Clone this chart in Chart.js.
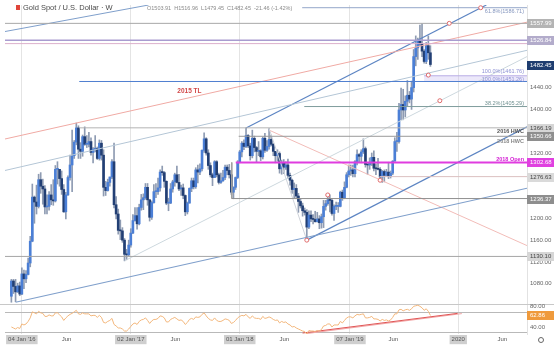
<!DOCTYPE html>
<html>
<head>
<meta charset="utf-8">
<script src="https://cdn.jsdelivr.net/npm/chart.js@4.4.1/dist/chart.umd.min.js"></script>
<style>
  html, body { margin: 0; padding: 0; background: #fff; overflow: hidden; }
</style>
</head>
<body>
<canvas id="goldChart" width="554" height="346"></canvas>
<script>
// weekly XAU/USD, first candle = week of 30 Nov 2015 (week 0 = 04 Jan 2016)
const firstWeek = -5;

const opens = [
  1057, 1085, 1075, 1065, 1076,
  1061, 1098, 1089, 1097, 1118, 1158, 1239, 1230, 1222, 1271, 1259, 1254, 1221, 1222, 1243, 1234, 1232, 1290, 1290, 1273,
  1253, 1212, 1243, 1275, 1298, 1315, 1340, 1366, 1327, 1323, 1350, 1336, 1336, 1341, 1321, 1327, 1328, 1310, 1338, 1316,
  1257, 1251, 1266, 1276, 1304, 1225, 1208, 1178, 1177, 1160, 1134, 1133,
  1151, 1173, 1196, 1205, 1190, 1220, 1234, 1238, 1257, 1234, 1202, 1229, 1249, 1249, 1256, 1285, 1284, 1268, 1228, 1228,
  1254, 1267, 1280, 1266, 1254, 1256, 1242, 1212, 1228, 1255, 1269, 1258, 1289, 1285, 1291, 1325, 1346, 1320, 1297, 1280,
  1275, 1304, 1280, 1266, 1269, 1275, 1294, 1288, 1280, 1248, 1257, 1275,
  1303, 1322, 1338, 1332, 1352, 1333, 1315, 1347, 1330, 1323, 1324, 1313, 1347, 1325, 1332, 1345, 1336, 1323, 1315, 1319,
  1291, 1301, 1294, 1298, 1279, 1270, 1253, 1255, 1241, 1231, 1223, 1214, 1211, 1184, 1206, 1199, 1198, 1194, 1199, 1192,
  1203, 1222, 1227, 1234, 1233, 1209, 1222, 1222, 1222, 1248, 1238, 1257,
  1280, 1287, 1289, 1282, 1304, 1317, 1314, 1322, 1328, 1299, 1298, 1302, 1312, 1292, 1291, 1290, 1276, 1286, 1279, 1285,
  1277, 1283, 1305, 1341, 1341, 1399, 1409, 1399, 1415, 1426, 1419, 1440, 1497, 1513, 1527, 1520, 1507, 1488, 1517, 1504
];
const highs = [
  1088, 1088, 1088, 1081, 1083,
  1109, 1105, 1104, 1127, 1167, 1263, 1241, 1261, 1281, 1284, 1272, 1260, 1243, 1249, 1262, 1271, 1297, 1304, 1290, 1287,
  1262, 1248, 1278, 1316, 1362, 1343, 1375, 1370, 1339, 1353, 1368, 1352, 1358, 1348, 1330, 1352, 1331, 1344, 1343, 1326,
  1268, 1272, 1276, 1308, 1338, 1240, 1217, 1197, 1183, 1163, 1143, 1160,
  1181, 1207, 1220, 1220, 1226, 1244, 1245, 1264, 1264, 1235, 1232, 1262, 1264, 1274, 1289, 1296, 1286, 1269, 1237, 1264,
  1270, 1283, 1296, 1281, 1261, 1263, 1243, 1230, 1256, 1274, 1274, 1293, 1298, 1300, 1326, 1357, 1348, 1326, 1302, 1283,
  1306, 1306, 1283, 1283, 1288, 1298, 1298, 1299, 1281, 1258, 1276, 1306,
  1325, 1341, 1344, 1366, 1354, 1338, 1362, 1351, 1332, 1341, 1326, 1349, 1356, 1343, 1365, 1353, 1338, 1323, 1326, 1322,
  1307, 1308, 1304, 1309, 1283, 1272, 1265, 1262, 1246, 1236, 1228, 1219, 1216, 1214, 1214, 1207, 1213, 1211, 1205, 1208,
  1233, 1233, 1243, 1243, 1237, 1225, 1230, 1229, 1250, 1252, 1267, 1284,
  1298, 1298, 1298, 1306, 1326, 1319, 1326, 1346, 1331, 1300, 1311, 1320, 1324, 1300, 1310, 1293, 1288, 1289, 1290, 1303,
  1287, 1306, 1348, 1358, 1411, 1439, 1437, 1425, 1453, 1433, 1452, 1510, 1535, 1531, 1555, 1557, 1510, 1523, 1535, 1517
];
const lows = [
  1046, 1062, 1047, 1064, 1058,
  1060, 1071, 1082, 1096, 1111, 1157, 1191, 1208, 1219, 1246, 1226, 1208, 1208, 1215, 1225, 1224, 1230, 1263, 1259, 1244,
  1211, 1199, 1242, 1270, 1249, 1310, 1335, 1310, 1310, 1314, 1334, 1330, 1331, 1316, 1302, 1322, 1308, 1307, 1307, 1241,
  1242, 1250, 1259, 1273, 1219, 1199, 1171, 1161, 1156, 1122, 1124, 1131,
  1147, 1172, 1195, 1180, 1188, 1215, 1216, 1235, 1224, 1195, 1198, 1228, 1238, 1244, 1250, 1279, 1257, 1225, 1214, 1227,
  1248, 1259, 1265, 1251, 1242, 1236, 1205, 1208, 1228, 1249, 1254, 1255, 1265, 1280, 1287, 1321, 1316, 1290, 1276, 1260,
  1275, 1276, 1263, 1264, 1268, 1271, 1280, 1274, 1244, 1236, 1253, 1273,
  1302, 1313, 1326, 1330, 1330, 1307, 1311, 1322, 1303, 1315, 1306, 1309, 1321, 1323, 1327, 1333, 1315, 1302, 1305, 1283,
  1281, 1282, 1290, 1274, 1261, 1246, 1238, 1236, 1211, 1219, 1204, 1206, 1160, 1181, 1194, 1190, 1193, 1193, 1181, 1182,
  1183, 1215, 1224, 1212, 1206, 1196, 1216, 1211, 1221, 1233, 1236, 1256,
  1276, 1279, 1276, 1276, 1298, 1303, 1302, 1319, 1294, 1281, 1290, 1297, 1287, 1280, 1289, 1270, 1266, 1267, 1278, 1273,
  1274, 1280, 1305, 1323, 1338, 1381, 1381, 1386, 1405, 1412, 1400, 1432, 1480, 1492, 1517, 1497, 1485, 1484, 1492, 1479
];
const closes = [
  1085, 1075, 1065, 1076, 1061,
  1098, 1089, 1097, 1118, 1158, 1239, 1230, 1222, 1271, 1259, 1254, 1221, 1222, 1243, 1234, 1232, 1290, 1290, 1273, 1253,
  1212, 1243, 1275, 1298, 1315, 1340, 1366, 1327, 1323, 1350, 1336, 1336, 1341, 1321, 1327, 1328, 1310, 1338, 1316, 1257,
  1251, 1266, 1276, 1304, 1225, 1208, 1178, 1177, 1160, 1134, 1133, 1151,
  1173, 1196, 1205, 1190, 1220, 1234, 1238, 1257, 1234, 1202, 1229, 1249, 1249, 1256, 1285, 1284, 1268, 1228, 1228, 1254,
  1267, 1280, 1266, 1254, 1256, 1242, 1212, 1228, 1255, 1269, 1258, 1289, 1285, 1291, 1325, 1346, 1320, 1297, 1280, 1275,
  1304, 1280, 1266, 1269, 1275, 1294, 1288, 1280, 1248, 1257, 1275, 1303,
  1322, 1338, 1332, 1352, 1333, 1315, 1347, 1330, 1323, 1324, 1313, 1347, 1325, 1332, 1345, 1336, 1323, 1315, 1319, 1291,
  1301, 1294, 1298, 1279, 1270, 1253, 1255, 1241, 1231, 1223, 1214, 1211, 1184, 1206, 1199, 1198, 1194, 1199, 1192, 1203,
  1222, 1227, 1234, 1233, 1209, 1222, 1222, 1222, 1248, 1238, 1257, 1280,
  1287, 1289, 1282, 1304, 1317, 1314, 1322, 1328, 1299, 1298, 1302, 1312, 1292, 1291, 1290, 1276, 1286, 1279, 1285, 1277,
  1283, 1305, 1341, 1341, 1399, 1409, 1399, 1415, 1426, 1419, 1440, 1497, 1513, 1527, 1520, 1507, 1488, 1517, 1504, 1482.45
];
const rsiValues = [
  40, 38, 36, 39, 37,
  46, 44, 46, 51, 58, 70, 68, 66, 71, 68, 67, 61, 61, 64, 62, 62, 68, 68, 64, 60,
  53, 58, 62, 65, 67, 70, 73, 66, 65, 68, 66, 66, 66, 62, 63, 63, 59, 63, 59, 49,
  48, 51, 53, 57, 45, 42, 38, 38, 36, 32, 32, 36,
  41, 46, 48, 45, 51, 54, 55, 58, 53, 47, 52, 55, 55, 57, 62, 61, 58, 50, 50, 55,
  57, 59, 56, 53, 54, 51, 45, 49, 55, 57, 55, 60, 59, 60, 65, 68, 62, 57, 54, 53,
  58, 53, 51, 51, 53, 56, 55, 53, 47, 49, 53, 58,
  61, 63, 62, 65, 60, 57, 62, 58, 57, 57, 55, 61, 57, 58, 60, 58, 55, 53, 54, 48,
  51, 49, 50, 46, 44, 40, 41, 38, 36, 34, 32, 31, 26, 33, 32, 32, 31, 33, 32, 35,
  42, 43, 46, 46, 40, 44, 44, 44, 51, 48, 53, 58,
  60, 60, 58, 62, 65, 64, 65, 66, 58, 58, 59, 61, 56, 56, 55, 52, 55, 53, 54, 52,
  54, 59, 66, 66, 74, 75, 72, 74, 75, 73, 76, 81, 82, 83, 81, 78, 73, 76, 71, 62.86
];

// time axis
const xTickWeeks = [0, 21.3, 52, 73.3, 104, 125.3, 156.6, 177.3, 208.3, 229.3];
const xTickLabels = ["04 Jan '16", 'Jun', "02 Jan '17", 'Jun', "01 Jan '18", 'Jun', "07 Jan '19", 'Jun', '2020', 'Jun'];
const priceTicks = [1080, 1120, 1160, 1200, 1320, 1400, 1440];

// horizontal levels (price, first week drawn)
const levelValues = [1586.71, 1557.99, 1526.84, 1520.8, 1461.76, 1451.26, 1405.29, 1366.19, 1350.66, 1302.68, 1276.63, 1236.37, 1130.10];
const levelStarts = [133.8, -8.04, -8.04, -8.04, 192, 27.4, 134.8, 27.4, 103.5, 102.1, 170.7, 100.2, -8.04];

// trendlines as [week, price, week, price]
const trendLines = [
  [-8.04, 1345.7, 241.1, 1560.2],   // 2015 TL
  [-8.04, 1287.9, 241.1, 1508.5],
  [-3, 1046, 241.1, 1255.3],
  [136, 1160, 241.1, 1368],
  [107, 1366, 221.7, 1591.7],
  [49, 1122, 241.1, 1497],
  [118, 1365, 136, 1160],
  [118, 1362, 241.1, 1150],
  [-8.04, 1543, 60.5, 1591.7],
  [100.2, 1302.68, 100.2, 1236.37]
];
const rsiTrendLines = [
  [134, 28, 208, 67],
  [136, 27, 210, 66.5]
];
const markerWeeks = [136, 146, 171, 194, 199.5, 204, 219];
const markerPrices = [1160, 1243, 1270, 1463, 1416, 1558, 1586.7];

// price tags on the right axis
const tagValues = [1557.99, 1526.84, 1482.45, 1366.19, 1350.66, 1302.68, 1276.63, 1236.37, 1130.10];
const noteTexts = ['61.8%(1586.71)', '100.0%(1461.76)', '100.0%(1451.26)', '38.2%(1405.29)', '2016 HWC', '2018 HWC', '2018 Open'];
const noteValues = [1586.71, 1461.76, 1451.26, 1405.29, 1366.19, 1350.66, 1302.68];
const lastRsi = 62.86;

const xMin = -8.04, xMax = 241.1;
const rsiPaneTop = 86.5;

// styles
const FONT = '"Liberation Sans", Arial, sans-serif';
const levelColors = ['#94a6c9', '#a8a8a8', '#a99cd0', '#dcb0cc', '#b9aee6', '#4f7fd0', '#7f9c9c', '#b4b4b4', '#9a9a9a', '#e03ce0', '#dcc0c0', '#8f8f8f', '#a5a5a5'];
const levelWidths = [1, 1, 1.5, 1, 1, 1, 1, 1, 1, 2, 1, 1, 1];
const trendColors = ['#f0aaa4', '#b4c6d6', '#7f9fcb', '#5d85c3', '#5d85c3', '#cdd8de', '#cfd3da', '#f2bcb8', '#7f9fcb', '#a0a0a0'];
const tagBg = ['#b4b4b4', '#b3accb', '#1f3d70', '#d6d6d6', '#8e8e8e', '#e040e0', '#dadada', '#8e8e8e', '#d6d6d6'];
const tagFg = ['#fff', '#fff', '#fff', '#444', '#fff', '#fff', '#444', '#fff', '#444'];
const noteColors = ['#8596be', '#8d90d4', '#8d90d4', '#6f9090', '#555', '#888', '#d41fd4'];
const noteShift = [4, -4, -2, -3, 4, 5, -3];

const weeks = closes.map((c, i) => firstWeek + i);

const datasets = [];
datasets.push({
  type: 'bar',
  data: weeks.map((w, i) => ({ x: w, y: [lows[i], highs[i]] })),
  backgroundColor: '#8e9bb2',
  barThickness: 1,
  grouped: false,
  order: 3
});
datasets.push({
  type: 'bar',
  data: weeks.map((w, i) => ({ x: w, y: [opens[i], closes[i]] })),
  backgroundColor: closes.map((c, i) => c >= opens[i] ? '#4b7fd6' : '#223f74'),
  barThickness: 2,
  minBarLength: 1,
  grouped: false,
  order: 2
});
levelValues.forEach((v, i) => {
  datasets.push({
    type: 'line',
    data: [{ x: levelStarts[i], y: v }, { x: xMax, y: v }],
    borderColor: levelColors[i],
    borderWidth: levelWidths[i],
    pointRadius: 0,
    order: 1
  });
});
trendLines.forEach((t, i) => {
  datasets.push({
    type: 'line',
    data: [{ x: t[0], y: t[1] }, { x: t[2], y: t[3] }],
    borderColor: trendColors[i],
    borderWidth: i >= 2 && i <= 4 ? 1.2 : 1,
    pointRadius: 0,
    order: 1
  });
});
datasets.push({
  type: 'line',
  data: markerWeeks.map((w, i) => ({ x: w, y: markerPrices[i] })),
  showLine: false,
  pointRadius: 2,
  pointBackgroundColor: '#fff',
  pointBorderColor: '#e06a6a',
  pointBorderWidth: 1,
  order: 0
});
datasets.push({
  type: 'line',
  yAxisID: 'rsi',
  data: weeks.map((w, i) => ({ x: w, y: rsiValues[i] })),
  borderColor: '#f3b77c',
  borderWidth: 1,
  pointRadius: 0,
  order: 1
});
rsiTrendLines.forEach((t, i) => {
  datasets.push({
    type: 'line',
    yAxisID: 'rsi',
    data: [{ x: t[0], y: t[1] }, { x: t[2], y: t[3] }],
    borderColor: i === 0 ? '#e05555' : '#f2a5a5',
    borderWidth: 1,
    pointRadius: 0,
    order: 1
  });
});

function tag(ctx, yPix, text, bg, fg, left, right) {
  ctx.fillStyle = bg;
  ctx.fillRect(left, Math.round(yPix) - 4, right - left, 9);
  ctx.fillStyle = fg;
  ctx.textAlign = 'left';
  ctx.textBaseline = 'middle';
  ctx.fillText(text, left + 3, Math.round(yPix) + 0.5);
}

const overlay = {
  id: 'overlay',
  beforeDatasetsDraw(chart) {
    const { ctx, chartArea: a, scales } = chart;
    const x = scales.x, y = scales.y, rsi = scales.rsi;
    ctx.save();
    // fib band between the two 100% levels
    const bx = x.getPixelForValue(192);
    const y1 = y.getPixelForValue(levelValues[4]), y2 = y.getPixelForValue(levelValues[5]);
    ctx.fillStyle = 'rgba(200,190,240,0.35)';
    ctx.fillRect(bx, y1, a.right - bx, y2 - y1);
    // indicator pane
    ctx.strokeStyle = '#c8c8c8';
    ctx.lineWidth = 1;
    const sep = Math.round(rsi.getPixelForValue(rsiPaneTop)) + 0.5;
    ctx.beginPath(); ctx.moveTo(0, sep); ctx.lineTo(chart.width, sep); ctx.stroke();
    ctx.strokeStyle = '#b9b9b9';
    [70, 30].forEach(v => {
      const py = Math.round(rsi.getPixelForValue(v)) + 0.5;
      ctx.beginPath(); ctx.moveTo(a.left, py); ctx.lineTo(a.right, py); ctx.stroke();
    });
    ctx.restore();
  },
  afterDraw(chart) {
    const { ctx, chartArea: a, scales } = chart;
    const x = scales.x, y = scales.y, rsi = scales.rsi;
    ctx.save();
    // notes on the levels
    ctx.textAlign = 'right';
    ctx.textBaseline = 'middle';
    noteTexts.forEach((t, i) => {
      ctx.fillStyle = noteColors[i];
      ctx.font = (i >= 4 ? 'bold 5.5px ' : '5.5px ') + FONT;
      ctx.fillText(t, a.right - 3, y.getPixelForValue(noteValues[i]) + noteShift[i]);
    });
    ctx.font = 'bold 6.5px ' + FONT;
    ctx.fillStyle = '#d24848';
    ctx.textAlign = 'center';
    ctx.fillText('2015 TL', x.getPixelForValue(80), y.getPixelForValue(1434));

    // right axis tags
    ctx.font = '6px ' + FONT;
    tagValues.forEach((v, i) => {
      tag(ctx, y.getPixelForValue(v), v.toFixed(2), tagBg[i], tagFg[i], a.right, chart.width);
    });
    // rsi axis
    ctx.fillStyle = '#666';
    ctx.textAlign = 'left';
    [80, 40].forEach(v => ctx.fillText(v.toFixed(2), a.right + 3, rsi.getPixelForValue(v)));
    tag(ctx, rsi.getPixelForValue(lastRsi), lastRsi.toFixed(2), '#ef9a3c', '#fff', a.right, chart.width);

    // header
    ctx.fillStyle = '#e0453a';
    ctx.fillRect(16, 5, 4, 5);
    ctx.font = '7.5px ' + FONT;
    ctx.fillStyle = '#4a4a4a';
    ctx.textAlign = 'left';
    ctx.textBaseline = 'middle';
    ctx.fillText('Gold Spot / U.S. Dollar · W', 23, 8);
    ctx.font = '5.5px ' + FONT;
    ctx.fillStyle = '#8a8a8a';
    ctx.fillText('O1503.91  H1516.96  L1479.45  C1482.45  -21.46 (-1.42%)', 147, 8);

    // settings gear
    ctx.strokeStyle = '#666';
    ctx.lineWidth = 1;
    ctx.beginPath(); ctx.arc(541, 340, 2.5, 0, Math.PI * 2); ctx.stroke();
    ctx.restore();
  }
};

new Chart(document.getElementById('goldChart'), {
  type: 'bar',
  data: { datasets },
  options: {
    responsive: false,
    devicePixelRatio: 1,
    animation: false,
    layout: { padding: 0 },
    plugins: { legend: { display: false }, tooltip: { enabled: false } },
    scales: {
      x: {
        type: 'linear',
        min: xMin,
        max: xMax,
        offset: false,
        afterBuildTicks: s => { s.ticks = xTickWeeks.map(v => ({ value: v })); },
        afterFit: s => { s.height = 12; s.paddingLeft = 0; s.paddingRight = 0; },
        grid: {
          offset: false,
          drawTicks: false,
          color: c => (c.index % 2 === 0 ? '#e4e4e4' : 'rgba(0,0,0,0)')
        },
        border: { display: false },
        ticks: {
          autoSkip: false,
          maxRotation: 0,
          padding: 2,
          color: '#555',
          font: { size: 6, family: FONT },
          callback: (v, i) => xTickLabels[i],
          showLabelBackdrop: true,
          backdropColor: c => (c.index % 2 === 0 ? '#cfcfcf' : 'rgba(0,0,0,0)'),
          backdropPadding: { x: 2, y: 1 }
        }
      },
      y: {
        position: 'right',
        min: 987.7,
        max: 1591.7,
        afterBuildTicks: s => { s.ticks = priceTicks.map(v => ({ value: v })); },
        afterFit: s => { s.width = 27; s.paddingTop = 0; s.paddingBottom = 0; },
        grid: { display: false, drawTicks: false },
        border: { display: true, color: '#e2e2e2' },
        ticks: {
          autoSkip: false,
          padding: 3,
          color: '#666',
          font: { size: 6, family: FONT },
          callback: v => v.toFixed(2)
        }
      },
      rsi: {
        type: 'linear',
        position: 'right',
        display: false,
        min: 26.1,
        max: 677.8
      }
    }
  },
  plugins: [overlay]
});
</script>
</body>
</html>
